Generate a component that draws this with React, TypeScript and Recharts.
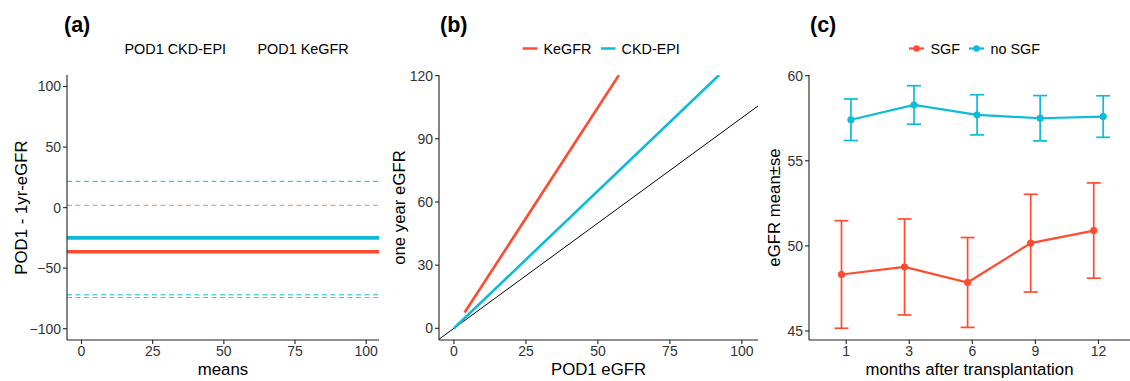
import React from 'react';
import { LineChart, Line, XAxis, YAxis, ReferenceLine, ErrorBar } from 'recharts';

// ---------- data ----------
// panel (a): Bland-Altman style lines (CKD-EPI, KeGFR)
const aNames = ['POD1 CKD-EPI', 'POD1 KeGFR'];
const aMeanDiff = [-25.0, -36.4];
const aUpperLoA = [21.7, 1.9];
const aLowerLoA = [-72.0, -74.2];
const aXTicks = [0, 25, 50, 75, 100];
const aYTicks = [-100, -50, 0, 50, 100];

// panel (b): regression lines
const bNames = ['KeGFR', 'CKD-EPI'];
const bKeX = [3.7, 57.3];
const bKeY = [7.5, 120.3];
const bCkdX = [0, 92.1];
const bCkdY = [0, 120.3];
const bIdentity = [-5.2, 105.6];
const bXTicks = [0, 25, 50, 75, 100];
const bYTicks = [0, 30, 60, 90, 120];

// panel (c): eGFR mean ± se over months
const months = ['1', '3', '6', '9', '12'];
const cNames = ['SGF', 'no SGF'];
const sgfMean = [48.32, 48.76, 47.85, 50.16, 50.9];
const sgfSe = [3.16, 2.82, 2.64, 2.87, 2.8];
const noSgfMean = [57.41, 58.28, 57.7, 57.5, 57.6];
const noSgfSe = [1.22, 1.13, 1.18, 1.33, 1.22];
const cYTicks = [45, 50, 55, 60];

// ---------- style ----------
const RED = '#FF4B2F';
const RED_DASH = '#FF7A66';
const CYAN = '#0CBCD6';
const AXIS = '#222';
const TICK = '#333';
const FONT = '"Liberation Sans", Arial, sans-serif';
const TICK_FS = 14;
const TITLE_FS = 16.8;
const LEG_FS = 14.4;
const colorsA = [CYAN, RED];
const dashColorsA = [CYAN, RED_DASH];
const colorsB = [RED, CYAN];
const colorsC = [RED, CYAN];

const minus = (v: number) => (v < 0 ? '\u2212' + Math.abs(v) : String(v));

const tickStyle = { fontSize: TICK_FS, fill: TICK, fontFamily: FONT };
const axisLine = { stroke: AXIS, strokeWidth: 1.1 };

const dodge = 0.075;
const sgfData = months.map((m, i) => ({ x: i + 1 - dodge, y: sgfMean[i], se: sgfSe[i] }));
const noSgfData = months.map((m, i) => ({ x: i + 1 + dodge, y: noSgfMean[i], se: noSgfSe[i] }));
const keData = bKeX.map((x, i) => ({ x, y: bKeY[i] }));
const ckdData = bCkdX.map((x, i) => ({ x, y: bCkdY[i] }));
const idData = bIdentity.map((x) => ({ x, y: x }));

function xLabel(value: string) {
  return { value, position: 'insideBottom' as const, offset: 6, style: { fontSize: TITLE_FS, fill: '#000', fontFamily: FONT } };
}
function yLabel(value: string, offset: number) {
  return {
    value,
    angle: -90,
    position: 'insideLeft' as const,
    offset,
    style: { fontSize: TITLE_FS, fill: '#000', fontFamily: FONT, textAnchor: 'middle' as const },
  };
}

export default function App() {
  return (
    <div style={{ position: 'absolute', left: 0, top: 0, width: 1130, height: 381, background: '#fff', fontFamily: FONT }}>
      {/* panel a */}
      <div style={{ position: 'absolute', left: 0, top: 0 }}>
        <LineChart width={380} height={381} margin={{ top: 75, right: 1, left: 0, bottom: 0 }}>
          <XAxis
            type="number"
            dataKey="x"
            domain={[-5.1, 104.5]}
            ticks={aXTicks}
            allowDataOverflow
            tick={tickStyle}
            tickSize={4}
            tickMargin={2}
            axisLine={axisLine}
            tickLine={axisLine}
            height={41}
            label={xLabel('means')}
          />
          <YAxis
            type="number"
            domain={[-109.3, 109.5]}
            ticks={aYTicks}
            allowDataOverflow
            tick={tickStyle}
            tickFormatter={minus}
            tickSize={4}
            tickMargin={2}
            axisLine={axisLine}
            tickLine={axisLine}
            width={67}
            label={yLabel('POD1 - 1yr-eGFR', 21)}
          />
          {aNames.map((n, i) => (
            <ReferenceLine key={'u' + n} y={aUpperLoA[i]} stroke={dashColorsA[i]} strokeWidth={1} strokeDasharray="5 3.5" />
          ))}
          {aNames.map((n, i) => (
            <ReferenceLine key={'l' + n} y={aLowerLoA[i]} stroke={dashColorsA[i]} strokeWidth={1} strokeDasharray="5 3.5" />
          ))}
          {aNames.map((n, i) => (
            <ReferenceLine key={'m' + n} y={aMeanDiff[i]} stroke={colorsA[i]} strokeWidth={3.6} />
          ))}
        </LineChart>
      </div>

      {/* panel b */}
      <div style={{ position: 'absolute', left: 380, top: 0 }}>
        <LineChart width={380} height={381} margin={{ top: 75, right: 2, left: 0, bottom: 0 }}>
          <XAxis
            type="number"
            dataKey="x"
            domain={[-5.2, 105.6]}
            ticks={bXTicks}
            allowDataOverflow
            tick={tickStyle}
            tickSize={4}
            tickMargin={2}
            axisLine={axisLine}
            tickLine={axisLine}
            height={41}
            label={xLabel('POD1 eGFR')}
          />
          <YAxis
            type="number"
            domain={[-5.56, 120.32]}
            ticks={bYTicks}
            allowDataOverflow
            tick={tickStyle}
            tickSize={4}
            tickMargin={2}
            axisLine={axisLine}
            tickLine={axisLine}
            width={59}
            label={yLabel('one year eGFR', 19)}
          />
          <Line data={idData} dataKey="y" stroke="#000" strokeWidth={1} dot={false} isAnimationActive={false} />
          <Line data={ckdData} dataKey="y" name={bNames[1]} stroke={CYAN} strokeWidth={2.6} dot={false} isAnimationActive={false} />
          <Line data={keData} dataKey="y" name={bNames[0]} stroke={RED} strokeWidth={2.6} dot={false} isAnimationActive={false} />
        </LineChart>
      </div>

      {/* panel c */}
      <div style={{ position: 'absolute', left: 760, top: 0 }}>
        <LineChart width={370} height={381} margin={{ top: 75, right: 0, left: 0, bottom: 0 }}>
          <XAxis
            type="number"
            dataKey="x"
            domain={[0.41, 5.5]}
            ticks={[1, 2, 3, 4, 5]}
            tickFormatter={(v: number) => months[Math.round(v) - 1]}
            allowDataOverflow
            tick={tickStyle}
            tickSize={4}
            tickMargin={2}
            axisLine={axisLine}
            tickLine={axisLine}
            height={41}
            label={xLabel('months after transplantation')}
          />
          <YAxis
            type="number"
            domain={[44.47, 60.04]}
            ticks={cYTicks}
            allowDataOverflow
            tick={tickStyle}
            tickSize={4}
            tickMargin={2}
            axisLine={axisLine}
            tickLine={axisLine}
            width={49}
            label={yLabel('eGFR mean\u00b1se', 14.5)}
          />
          <Line
            data={sgfData}
            dataKey="y"
            name={cNames[0]}
            stroke={RED}
            strokeWidth={2.2}
            dot={{ r: 3.2, fill: RED, stroke: RED, strokeWidth: 1 }}
            isAnimationActive={false}
          >
            <ErrorBar dataKey="se" direction="y" width={7} stroke={RED} strokeWidth={1.7} />
          </Line>
          <Line
            data={noSgfData}
            dataKey="y"
            name={cNames[1]}
            stroke={CYAN}
            strokeWidth={2.2}
            dot={{ r: 3.2, fill: CYAN, stroke: CYAN, strokeWidth: 1 }}
            isAnimationActive={false}
          >
            <ErrorBar dataKey="se" direction="y" width={7} stroke={CYAN} strokeWidth={1.7} />
          </Line>
        </LineChart>
      </div>

      {/* titles and legends */}
      <svg width={1130} height={381} style={{ position: 'absolute', left: 0, top: 0, pointerEvents: 'none' }}>
        <g fontFamily={FONT} fontWeight="bold" fontSize={21.5} fill="#000">
          <text x={64} y={31.5}>(a)</text>
          <text x={440} y={31.5}>(b)</text>
          <text x={810} y={31.5}>(c)</text>
        </g>
        <g fontFamily={FONT} fontSize={LEG_FS} fill="#000">
          <text x={124.5} y={54}>{aNames[0]}</text>
          <text x={257.5} y={54}>{aNames[1]}</text>

          <line x1={522.7} x2={537.5} y1={48.5} y2={48.5} stroke={colorsB[0]} strokeWidth={2.5} />
          <text x={543.5} y={54}>{bNames[0]}</text>
          <line x1={601} x2={615.5} y1={48.5} y2={48.5} stroke={colorsB[1]} strokeWidth={2.5} />
          <text x={621.5} y={54}>{bNames[1]}</text>

          <line x1={909} x2={924} y1={48.5} y2={48.5} stroke={colorsC[0]} strokeWidth={2.2} />
          <circle cx={916.5} cy={48.5} r={3.2} fill={colorsC[0]} />
          <text x={930.5} y={54}>{cNames[0]}</text>
          <line x1={969} x2={984} y1={48.5} y2={48.5} stroke={colorsC[1]} strokeWidth={2.2} />
          <circle cx={976.5} cy={48.5} r={3.2} fill={colorsC[1]} />
          <text x={990.5} y={54}>{cNames[1]}</text>
        </g>
      </svg>
    </div>
  );
}
